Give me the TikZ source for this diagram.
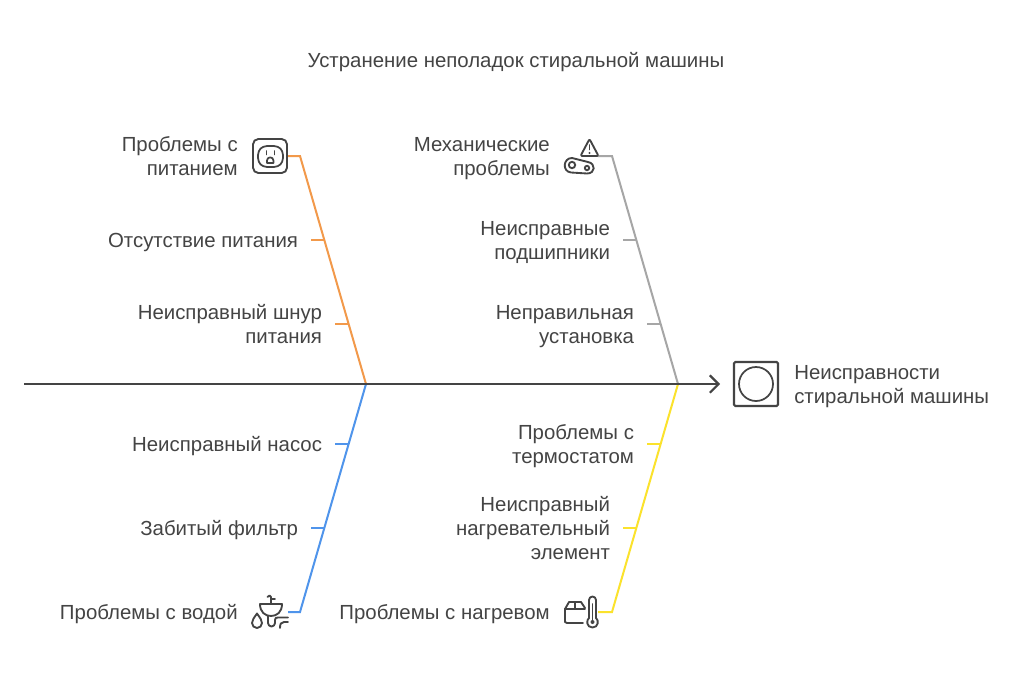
\documentclass[tikz,border=0pt]{standalone}
\usepackage{fontspec}
\setmainfont{Liberation Sans}
\usetikzlibrary{arrows.meta}
\definecolor{ink}{HTML}{444444}
\definecolor{cOrange}{HTML}{F2994A}
\definecolor{cGray}{HTML}{A6A6A6}
\definecolor{cBlue}{HTML}{4F94EB}
\definecolor{cYellow}{HTML}{FBE22C}
\newcommand{\lbltop}{\rule{0pt}{15pt}}
\newcommand{\mtop}{\rule{0pt}{15.5pt}}
\newcommand{\lblbot}{\rule[-3.8pt]{0pt}{3.8pt}}
\tikzset{
  lbl/.style={text=ink,inner sep=0pt,anchor=east,align=right,font=\fontsize{15.3}{18}\selectfont,
    execute at begin node=\lbltop,execute at end node=\lblbot},
  ticklbl/.style={lbl,outer xsep=9.75pt},
  iconbox/.style={inner sep=0pt,minimum width=27pt,minimum height=27pt},
  bone/.style={line width=1.5pt,line join=miter},
  tick/.style={line width=1.1pt},
  ico/.style={draw=ink,line width=1.4pt,line cap=round,line join=round},
}
\begin{document}
\begin{tikzpicture}[x=0.75pt,y=-0.75pt]
\useasboundingbox (0,0) rectangle (1020,678);
\fill[white] (0,0) rectangle (1020,678);
\node[lbl,anchor=center,align=center] (title) at (516,60) {Устранение неполадок стиральной машины};

% spine
\coordinate (sStart) at (24,384);
\coordinate (sEnd) at (720,384);
\coordinate (jL) at (366,384);
\coordinate (jR) at (678,384);

% icons
\node[iconbox] (iPower) at (270,156) {};
\node[iconbox] (iMech) at (580,156) {};
\node[iconbox] (iWater) at (270,612) {};
\node[iconbox] (iHeat) at (580,612) {};
\node[draw=ink,line width=1.6pt,minimum width=33pt,minimum height=33pt,inner sep=0pt,rounded corners=1pt] (iMain) at (756,384) {};

% main labels
\node[lbl] (tPower) at (238,156) {\mtop Проблемы с\\питанием};
\node[lbl] (tMech) at (550,156) {\mtop Механические\\проблемы};
\node[lbl] (tWater) at (238,612) {Проблемы с водой};
\node[lbl] (tHeat) at (550,612) {Проблемы с нагревом};
\node[lbl,anchor=west,align=left] (tMain) at (794,384) {\mtop Неисправности\\стиральной машины};

% tick labels
\node[ticklbl] (a1) at (311,240) {Отсутствие питания};
\node[ticklbl] (a2) at (335,324) {\mtop Неисправный шнур\\питания};
\node[ticklbl] (b1) at (335,444) {Неисправный насос};
\node[ticklbl] (b2) at (311,528) {Забитый фильтр};
\node[ticklbl] (c1) at (623,240) {\mtop Неисправные\\подшипники};
\node[ticklbl] (c2) at (647,324) {\mtop Неправильная\\установка};
\node[ticklbl] (d1) at (647,444) {\mtop Проблемы с\\термостатом};
\node[ticklbl] (d2) at (623,528) {\mtop Неисправный\\нагревательный\\элемент};

% elbows and junctions on the bones
\coordinate (kO) at (300,156);
\coordinate (kG) at (612,156);
\coordinate (kB) at (300,612);
\coordinate (kY) at (612,612);
\coordinate (ja1) at (324.3,240);
\coordinate (ja2) at (348.6,324);
\coordinate (jb1) at (348.6,444);
\coordinate (jb2) at (324.3,528);
\coordinate (jc1) at (636.3,240);
\coordinate (jc2) at (660.6,324);
\coordinate (jd1) at (660.6,444);
\coordinate (jd2) at (636.3,528);

% bones
\draw[bone,cOrange] (288,156) -- (kO) -- (jL);
\draw[bone,cGray] (598,156) -- (kG) -- (jR);
\draw[bone,cBlue] (288,612) -- (kB) -- (jL);
\draw[bone,cYellow] (598,612) -- (kY) -- (jR);
\draw[tick,cOrange] (a1.east) -- (ja1);
\draw[tick,cOrange] (a2.east) -- (ja2);
\draw[tick,cBlue] (b1.east) -- (jb1);
\draw[tick,cBlue] (b2.east) -- (jb2);
\draw[tick,cGray] (c1.east) -- (jc1);
\draw[tick,cGray] (c2.east) -- (jc2);
\draw[tick,cYellow] (d1.east) -- (jd1);
\draw[tick,cYellow] (d2.east) -- (jd2);
\draw[line width=1.5pt,ink,-{Straight Barb[length=6.5pt,width=13pt,line width=1.6pt]}] (sStart) -- (sEnd);

% final icon
\draw[ico,line width=1.3pt] (756,384) circle (17);

% outlet icon
\draw[ico,rounded corners=4pt] (253,139) rectangle (287,173);
\draw[ico,line width=1.3pt,rounded corners=3pt] (263,146) -- (278,146) -- (283,151) -- (283,162) -- (278,167) -- (263,167) -- (258,162) -- (258,151) -- cycle;
\draw[ico,line width=1.4pt] (266.5,151) -- (266.5,154.5);
\draw[ico,line width=1.4pt] (274.5,151) -- (274.5,154.5);
\draw[ico,line width=1.3pt] (267,163) -- (267,160.5) arc (180:360:3.2) -- (273.4,163) -- cycle;

% warning + belt icon
\draw[ico,rounded corners=1pt] (589.5,139) -- (598.5,156) -- (580.5,156) -- cycle;
\draw[ico] (589.5,145) -- (589.5,149.5);
\fill[ink] (589.5,153) circle (1.2);
\draw[ico] (572,158) -- (588,162) .. controls (596,163.5) and (595.5,173.5) .. (587,173.5) -- (571,172.5) .. controls (562,171.5) and (563,158) .. (572,158) -- cycle;
\draw[ico] (572,165) circle (3.2);
\draw[ico] (587,168) circle (2.2);

% sink icon
\draw[ico] (260,604) -- (282,604) .. controls (282,612) and (277,616) .. (271,616) .. controls (265,616) and (260,612) .. (260,604) -- cycle;
\draw[ico] (271,604) -- (271,597) .. controls (271,595) and (268,595) .. (267.5,597);
\draw[ico] (271,599) -- (275,599);
\draw[ico] (257,613.5) .. controls (254,618) and (252,620) .. (252,623) arc (180:0:5) .. controls (262,620) and (260,618) .. (257,613.5) -- cycle;
\draw[ico] (268,616) -- (268,623) arc (180:0:3.5) -- (275,620) .. controls (275,618) and (276,617.5) .. (278,617.5) -- (288,617.5);
\draw[ico] (280,628) .. controls (280,624) and (281,622) .. (284,622) -- (288,622);

% box + thermometer icon
\draw[ico] (583,623) -- (567,623) -- (565,622) -- (565,609) -- (569,602) -- (581,602) -- (585,608);
\draw[ico] (565,609) -- (585,609);
\draw[ico] (575,602) -- (575,609);
\draw[ico] (589,618) -- (589,600) arc (180:360:3.5) -- (596,618) .. controls (599,620) and (598.5,627.5) .. (592.5,627.5) .. controls (586.5,627.5) and (586,620) .. (589,618) -- cycle;
\draw[ico] (592.5,604) -- (592.5,620);
\fill[ink] (592.5,622) circle (2);
\end{tikzpicture}
\end{document}
